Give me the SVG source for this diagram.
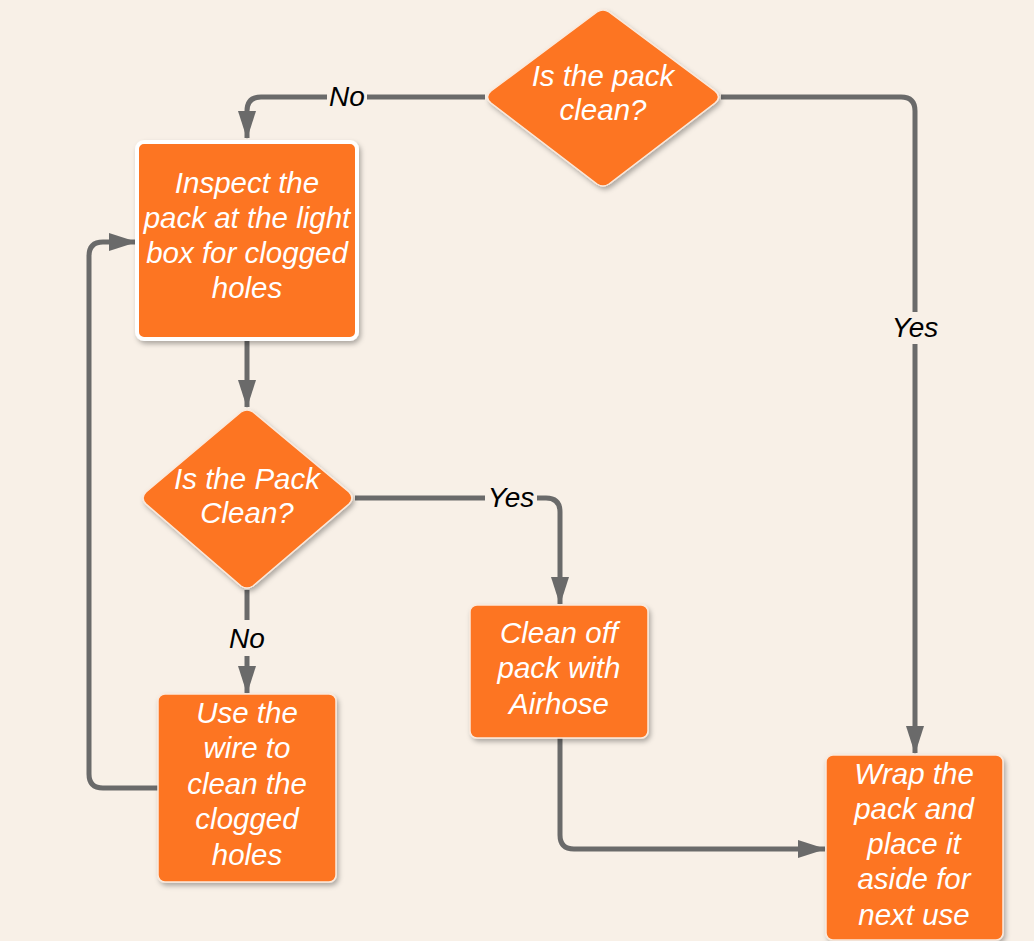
<svg xmlns="http://www.w3.org/2000/svg" width="1034" height="941" viewBox="0 0 1034 941">
<defs>
<filter id="sh" x="-10%" y="-10%" width="130%" height="130%">
<feDropShadow dx="2" dy="3" stdDeviation="2.5" flood-color="#000" flood-opacity="0.3"/>
</filter>
<marker id="ar" markerWidth="28" markerHeight="18" viewBox="0 0 28 18" refX="27" refY="9" orient="auto" markerUnits="userSpaceOnUse">
<path d="M0,0 L28,9 L0,18 Z" fill="#6a6a6a"/>
</marker>
<style>
.nd{fill:#fd7520;stroke:#fbe9dc;stroke-width:1.5;filter:url(#sh)}
.t{font-family:"Liberation Sans",Arial,sans-serif;font-style:italic;font-size:29.5px;fill:#fff;text-anchor:middle}
.c{fill:none;stroke:#6a6a6a;stroke-width:5;stroke-linejoin:round}
.lb{font-family:"Liberation Sans",Arial,sans-serif;font-style:italic;font-size:28px;fill:#000;text-anchor:middle}
.bg{fill:#f8f0e7}
</style>
</defs>
<rect width="1034" height="941" fill="#f8f0e7"/>
<g id="connectors">
<path class="c" d="M485,97 H261 Q247,97 247,111 V138" marker-end="url(#ar)"/>
<path class="c" d="M721,97 H901 Q915,97 915,111 V753" marker-end="url(#ar)"/>
<path class="c" d="M247,341 V407" marker-end="url(#ar)"/>
<path class="c" d="M355,498 H546 Q560,498 560,512 V604" marker-end="url(#ar)"/>
<path class="c" d="M247,590 V693" marker-end="url(#ar)"/>
<path class="c" d="M158,788 H103 Q89,788 89,774 V256 Q89,242 103,242 H136" marker-end="url(#ar)"/>
<path class="c" d="M560,738 V835 Q560,849 574,849 H825" marker-end="url(#ar)"/>
<rect class="bg" x="327" y="84" width="40" height="26"/>
<text class="lb" x="347" y="106">No</text>
<rect class="bg" x="889" y="312" width="52" height="32"/>
<text class="lb" x="915" y="337">Yes</text>
<rect class="bg" x="485" y="485" width="52" height="26"/>
<text class="lb" x="511" y="507">Yes</text>
<rect class="bg" x="227" y="620" width="40" height="36"/>
<text class="lb" x="247" y="648">No</text>
</g>
<g id="n1">
<path class="nd" d="M597,12 Q603,8 609,12 L715,91 Q722,97 715,103 L609,184 Q603,188 597,184 L491,103 Q484,97 491,91 Z"/>
<text class="t" x="603" y="86">Is the pack</text>
<text class="t" x="603" y="120">clean?</text>
</g>
<g id="n2">
<rect x="137" y="142" width="220" height="197" rx="7" fill="#fd7520" stroke="#fff" stroke-width="4" filter="url(#sh)"/>
<text class="t" x="247" y="193">Inspect the</text>
<text class="t" x="247" y="228">pack at the light</text>
<text class="t" x="247" y="263">box for clogged</text>
<text class="t" x="247" y="298">holes</text>
</g>
<g id="n3">
<path class="nd" d="M241,412 Q247,408 253,412 L349,492 Q355,498 349,504 L253,586 Q247,590 241,586 L146,504 Q140,498 146,492 Z"/>
<text class="t" x="247" y="489">Is the Pack</text>
<text class="t" x="247" y="523">Clean?</text>
</g>
<g id="n4">
<rect class="nd" x="158" y="694" width="178" height="188" rx="7"/>
<text class="t" x="247" y="723">Use the</text>
<text class="t" x="247" y="758">wire to</text>
<text class="t" x="247" y="794">clean the</text>
<text class="t" x="247" y="829">clogged</text>
<text class="t" x="247" y="865">holes</text>
</g>
<g id="n5">
<rect class="nd" x="470" y="605" width="178" height="133" rx="7"/>
<text class="t" x="559" y="643">Clean off</text>
<text class="t" x="559" y="678">pack with</text>
<text class="t" x="559" y="714">Airhose</text>
</g>
<g id="n6">
<rect class="nd" x="826" y="755" width="177" height="185" rx="7"/>
<text class="t" x="914" y="784">Wrap the</text>
<text class="t" x="914" y="819">pack and</text>
<text class="t" x="914" y="854">place it</text>
<text class="t" x="914" y="889">aside for</text>
<text class="t" x="914" y="925">next use</text>
</g>
</svg>
